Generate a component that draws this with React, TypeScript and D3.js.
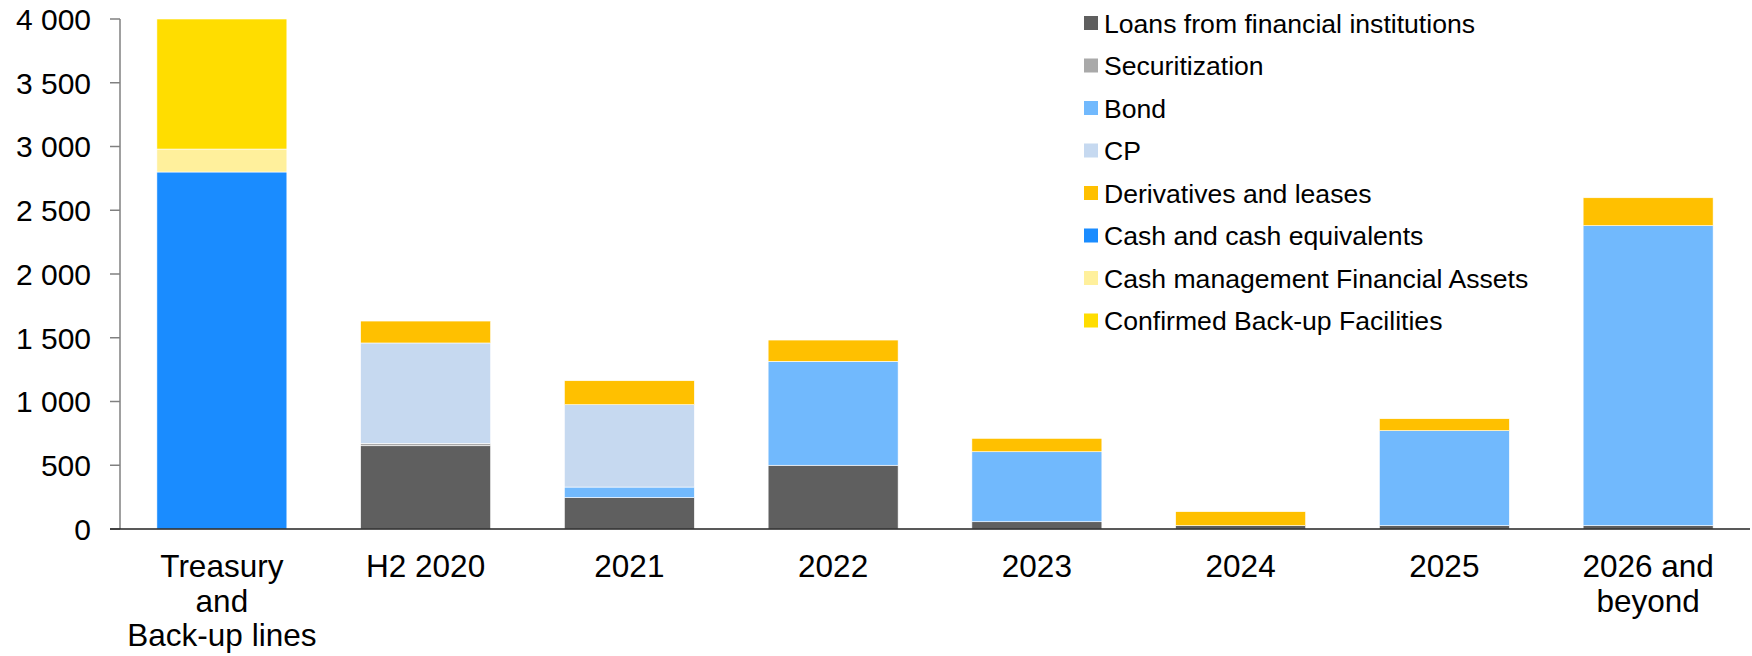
import React from 'react';
import * as d3 from 'd3';

const categories = ["Treasury and Back-up lines", "H2 2020", "2021", "2022", "2023", "2024", "2025", "2026 and beyond"];
const categoryLines = [["Treasury", "and", "Back-up lines"], ["H2 2020"], ["2021"], ["2022"], ["2023"], ["2024"], ["2025"], ["2026 and", "beyond"]];

const loans = [0, 653, 246, 500, 57, 26, 26, 26];
const securitization = [0, 19, 0, 0, 0, 0, 0, 0];
const bond = [0, 0, 83, 815, 549, 0, 745, 2353];
const cp = [0, 787, 646, 0, 0, 0, 0, 0];
const derivatives = [0, 172, 188, 167, 105, 110, 94, 219];
const cash = [2800, 0, 0, 0, 0, 0, 0, 0];
const cashManagement = [180, 0, 0, 0, 0, 0, 0, 0];
const backup = [1020, 0, 0, 0, 0, 0, 0, 0];

const seriesNames = [
    "Loans from financial institutions",
    "Securitization",
    "Bond",
    "CP",
    "Derivatives and leases",
    "Cash and cash equivalents",
    "Cash management Financial Assets",
    "Confirmed Back-up Facilities",
];
const seriesValues = [loans, securitization, bond, cp, derivatives, cash, cashManagement, backup];
const seriesColors = ["#5f5f5f", "#a9a9a9", "#71b9fd", "#c6d9f0", "#ffc000", "#1a8cff", "#fff09c", "#ffdd00"];

const yTicks = [0, 500, 1000, 1500, 2000, 2500, 3000, 3500, 4000];

const W = 1752, H = 656;
const left = 120, right = 1750, top = 19, bottom = 529;
const font = "'Liberation Sans', Arial, sans-serif";

const fmt = d3.formatLocale({ decimal: ".", thousands: " ", grouping: [3], currency: ["", ""] }).format(",");

export default function App() {
    const rows = categories.map((c, i) => {
        const r: Record<string, any> = { cat: c };
        seriesNames.forEach((s, j) => { r[s] = seriesValues[j][i]; });
        return r;
    });
    const stacked = d3.stack<any>().keys(seriesNames)(rows);

    const x = d3.scaleBand().domain(categories).range([left, right]).paddingInner(0.362).paddingOuter(0.181);
    const y = d3.scaleLinear().domain([0, 4000]).range([bottom, top]);

    return (
        <svg width={W} height={H} style={{ position: 'absolute', left: 0, top: 0, background: '#fff' }} fontFamily={font}>
            {stacked.map((layer, j) =>
                <g key={layer.key} fill={seriesColors[j]}>
                    {layer.map((d, i) => d[1] - d[0] > 0 ?
                        <rect key={i} x={x(categories[i])} width={x.bandwidth()} y={y(d[1])} height={y(d[0]) - y(d[1])}
                            stroke="#fff" strokeWidth={0.6} /> : null)}
                </g>
            )}
            <line x1={left} x2={left} y1={top} y2={bottom} stroke="#808080" strokeWidth={1.5} />
            {yTicks.map(t =>
                <g key={t} transform={`translate(0,${y(t)})`}>
                    <line x1={110} x2={left} stroke="#808080" strokeWidth={1.5} />
                    <text x={91} dy="0.36em" textAnchor="end" fontSize={30} fill="#000">{fmt(t)}</text>
                </g>
            )}
            <line x1={110} x2={right} y1={bottom} y2={bottom} stroke="#222" strokeWidth={1.5} />
            {categoryLines.map((lines, i) =>
                <text key={i} textAnchor="middle" fontSize={31.5} fill="#000">
                    {lines.map((l, k) =>
                        <tspan key={k} x={(x(categories[i]) ?? 0) + x.bandwidth() / 2} y={577 + k * 34.7}>{l}</tspan>)}
                </text>
            )}
            {seriesNames.map((s, j) =>
                <g key={s} transform={`translate(1084,${23 + j * 42.5})`}>
                    <rect x={0} y={-7} width={14} height={14} fill={seriesColors[j]} />
                    <text x={20} dy="0.36em" fontSize={26.6} fill="#000">{s}</text>
                </g>
            )}
        </svg>
    );
}
